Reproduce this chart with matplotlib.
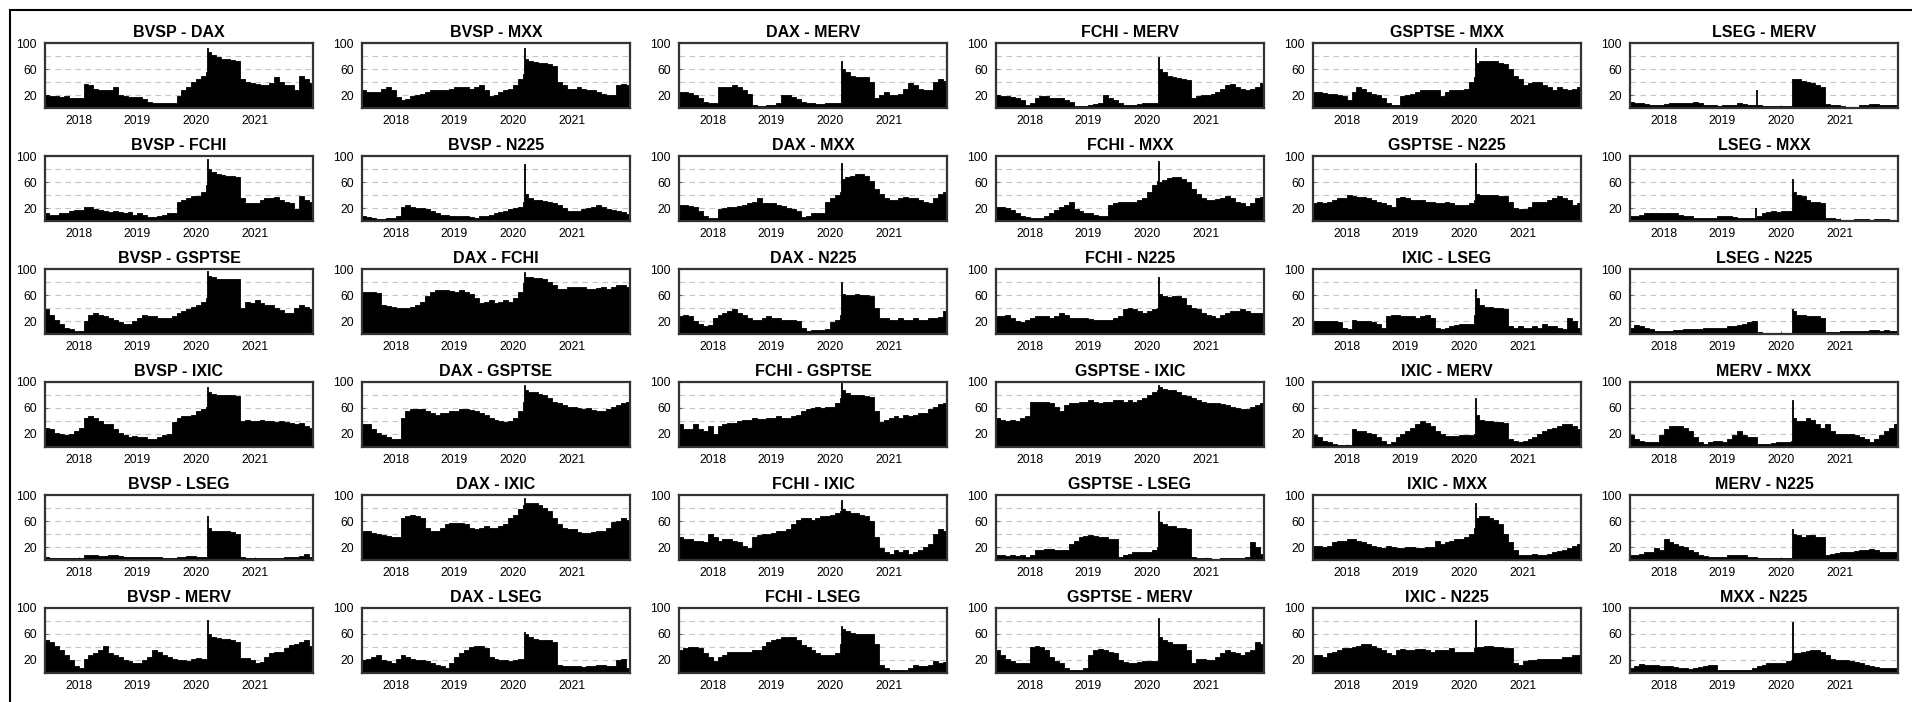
import matplotlib
matplotlib.use("Agg")
import matplotlib.pyplot as plt
import pandas as pd
from itertools import combinations
from matplotlib.patches import Rectangle

plt.rcParams["font.family"] = ["Liberation Sans", "DejaVu Sans"]

markets = ["BVSP", "DAX", "FCHI", "GSPTSE", "IXIC", "LSEG", "MERV", "MXX", "N225"]

# month starts, with the March 2020 crash split in three dates
dates = (list(pd.date_range("2017-06-01", "2020-02-01", freq="MS"))
         + list(pd.to_datetime(["2020-03-01", "2020-03-09", "2020-03-16"]))
         + list(pd.date_range("2020-04-01", "2021-12-01", freq="MS")))
end_date = pd.Timestamp("2022-01-01")

# values per year: 2017 (Jun-Dec) | 2018 | 2019 | 2020 (Jan, Feb, Mar 1, Mar 9, Mar 16, Apr-Dec) | 2021
bvsp_dax = ([20, 18, 19, 17, 18, 15, 16] + [15, 37, 35, 30, 27, 27, 28, 32, 20, 18, 17, 17]
            + [17, 14, 10, 7, 8, 7, 7, 8, 18, 28, 33, 40] + [45, 50, 55, 93, 86, 82, 78, 76, 75, 74, 72, 45, 40, 38]
            + [37, 35, 36, 38, 48, 40, 36, 36, 27, 50, 45, 38])
bvsp_fchi = ([13, 10, 10, 12, 13, 15, 17] + [17, 21, 22, 18, 17, 15, 14, 15, 14, 13, 14, 10]
             + [12, 10, 6, 6, 8, 10, 12, 13, 30, 32, 35, 38] + [38, 45, 55, 95, 80, 75, 72, 71, 70, 69, 67, 35, 28, 27]
             + [28, 33, 35, 35, 37, 33, 30, 28, 18, 38, 32, 30])
bvsp_gsptse = ([38, 30, 22, 15, 10, 7, 5] + [5, 20, 30, 33, 30, 28, 25, 22, 18, 15, 15, 20]
               + [25, 30, 27, 27, 25, 24, 25, 28, 32, 35, 38, 42] + [45, 50, 55, 97, 90, 87, 85, 85, 85, 84, 84, 40, 50, 48]
               + [52, 48, 45, 45, 40, 37, 33, 33, 40, 45, 42, 38])
bvsp_ixic = ([30, 27, 22, 20, 18, 20, 25] + [30, 45, 48, 45, 40, 35, 35, 28, 22, 18, 15, 17]
             + [15, 15, 13, 12, 15, 18, 20, 38, 45, 47, 48, 50] + [55, 58, 62, 92, 85, 82, 80, 80, 80, 80, 78, 40, 42, 40]
             + [40, 42, 40, 40, 38, 40, 38, 37, 35, 37, 33, 30])
bvsp_lseg = ([4, 3, 3, 3, 3, 3, 3] + [3, 7, 8, 7, 6, 6, 7, 7, 6, 5, 5, 5]
             + [5, 4, 4, 5, 4, 3, 3, 3, 4, 5, 6, 6] + [5, 5, 5, 67, 50, 45, 45, 44, 44, 43, 40, 4, 3, 3]
             + [3, 3, 3, 3, 3, 3, 4, 4, 5, 6, 10, 5])
bvsp_merv = ([50, 48, 42, 35, 28, 20, 10] + [7, 22, 27, 30, 35, 42, 30, 27, 24, 20, 18, 15]
             + [15, 20, 25, 35, 33, 28, 25, 22, 20, 20, 18, 21] + [23, 22, 22, 82, 60, 56, 54, 52, 52, 50, 48, 23, 23, 20]
             + [16, 17, 24, 30, 32, 33, 38, 43, 45, 48, 50, 42])
bvsp_mxx = ([27, 25, 24, 25, 30, 32, 28] + [17, 12, 14, 18, 20, 22, 25, 27, 28, 27, 28, 30]
            + [33, 33, 32, 30, 33, 35, 28, 18, 20, 25, 28, 30] + [35, 45, 52, 93, 75, 72, 71, 70, 69, 68, 65, 40, 35, 30]
            + [30, 32, 30, 28, 28, 25, 22, 20, 20, 35, 37, 35])
bvsp_n225 = ([8, 6, 4, 3, 3, 4, 5] + [8, 22, 24, 22, 20, 20, 18, 15, 12, 10, 10, 8]
             + [8, 8, 7, 6, 5, 7, 8, 10, 12, 14, 16, 18] + [20, 22, 30, 88, 42, 35, 32, 32, 31, 30, 28, 25, 20, 16]
             + [15, 16, 18, 20, 22, 25, 22, 18, 17, 16, 14, 11])
dax_fchi = ([65, 65, 64, 63, 45, 43, 42] + [40, 40, 40, 42, 45, 50, 58, 65, 68, 67, 68, 66]
            + [65, 68, 65, 62, 55, 48, 50, 52, 48, 50, 52, 50] + [55, 65, 78, 95, 88, 87, 86, 86, 85, 80, 75, 70, 70, 72]
            + [73, 72, 72, 70, 70, 71, 72, 70, 72, 75, 75, 72])
dax_gsptse = ([35, 35, 28, 22, 18, 15, 12] + [12, 45, 55, 58, 58, 58, 55, 52, 50, 52, 53, 55]
              + [55, 58, 58, 57, 55, 52, 50, 45, 42, 40, 38, 40] + [45, 55, 70, 95, 88, 85, 85, 82, 80, 75, 70, 68, 65, 62]
              + [62, 60, 58, 60, 57, 55, 55, 58, 62, 65, 68, 70])
dax_ixic = ([45, 45, 42, 40, 38, 37, 35] + [35, 65, 68, 70, 68, 65, 50, 45, 45, 50, 55, 57]
            + [57, 57, 55, 50, 48, 50, 52, 50, 50, 52, 55, 65] + [70, 78, 85, 95, 88, 87, 87, 85, 80, 75, 65, 55, 50, 48]
            + [47, 43, 42, 42, 43, 44, 45, 50, 58, 60, 64, 62])
dax_lseg = ([20, 22, 25, 28, 20, 18, 16] + [22, 28, 25, 22, 20, 20, 18, 15, 12, 10, 8, 15]
            + [25, 30, 35, 40, 42, 42, 38, 25, 22, 20, 20, 18] + [20, 22, 22, 63, 60, 55, 52, 50, 50, 50, 48, 12, 10, 10]
            + [10, 10, 9, 10, 11, 12, 12, 10, 10, 20, 22, 8])
dax_merv = ([25, 25, 23, 20, 15, 10, 8] + [7, 33, 32, 33, 35, 33, 28, 22, 5, 3, 3, 4]
            + [5, 8, 20, 20, 17, 14, 10, 8, 7, 6, 6, 7] + [7, 8, 8, 72, 60, 55, 50, 48, 48, 47, 40, 15, 20, 25]
            + [20, 20, 22, 30, 38, 35, 30, 28, 28, 40, 45, 42])
dax_mxx = ([25, 25, 23, 22, 15, 8, 5] + [5, 18, 20, 22, 22, 23, 25, 27, 30, 35, 28, 27]
           + [27, 25, 23, 20, 18, 15, 6, 8, 12, 13, 13, 30] + [35, 40, 45, 90, 65, 68, 70, 72, 72, 70, 62, 50, 42, 35]
           + [32, 33, 35, 37, 36, 35, 33, 30, 28, 35, 42, 45])
dax_n225 = ([28, 30, 28, 20, 15, 13, 14] + [25, 30, 33, 35, 38, 33, 30, 25, 22, 22, 25, 27]
            + [25, 25, 22, 22, 22, 20, 10, 5, 6, 6, 6, 8] + [18, 22, 30, 80, 62, 60, 60, 62, 60, 60, 58, 40, 25, 25]
            + [22, 22, 24, 22, 22, 25, 22, 22, 25, 24, 26, 35])
fchi_gsptse = ([35, 28, 28, 35, 28, 25, 33] + [20, 33, 35, 37, 37, 40, 42, 42, 45, 43, 43, 45]
               + [45, 47, 45, 45, 48, 50, 55, 58, 60, 62, 60, 62] + [62, 68, 75, 98, 88, 83, 80, 80, 80, 78, 77, 55, 38, 42]
               + [45, 47, 45, 50, 48, 50, 52, 53, 58, 62, 66, 67])
fchi_ixic = ([35, 33, 33, 30, 30, 28, 40] + [35, 30, 32, 33, 30, 28, 22, 18, 35, 38, 40, 40]
             + [42, 45, 45, 48, 55, 62, 65, 65, 62, 65, 68, 68] + [70, 72, 75, 92, 78, 75, 72, 72, 70, 68, 60, 35, 18, 12]
             + [10, 15, 12, 15, 10, 12, 15, 20, 25, 40, 48, 45])
fchi_lseg = ([35, 38, 40, 40, 38, 30, 25] + [18, 25, 28, 32, 33, 33, 33, 33, 35, 35, 42, 48]
             + [50, 53, 55, 55, 55, 50, 43, 40, 35, 30, 28, 28] + [28, 30, 45, 72, 68, 65, 62, 60, 60, 60, 60, 45, 12, 8]
             + [5, 5, 5, 5, 8, 12, 10, 10, 12, 18, 15, 17])
fchi_merv = ([20, 18, 18, 17, 15, 12, 5] + [8, 15, 18, 18, 15, 15, 15, 13, 10, 3, 3, 3]
             + [4, 6, 8, 20, 15, 12, 8, 5, 5, 5, 6, 7] + [8, 8, 8, 78, 60, 55, 50, 48, 46, 45, 43, 15, 18, 20]
             + [20, 22, 25, 30, 35, 37, 33, 30, 28, 30, 33, 38])
fchi_mxx = ([22, 22, 20, 17, 12, 8, 6] + [5, 4, 4, 8, 12, 17, 22, 25, 30, 18, 15, 12]
            + [12, 10, 8, 7, 25, 28, 30, 30, 30, 30, 32, 35] + [45, 55, 62, 92, 60, 63, 66, 68, 67, 65, 60, 50, 42, 35]
            + [33, 33, 34, 35, 38, 35, 30, 27, 23, 28, 35, 37])
fchi_n225 = ([27, 28, 30, 25, 20, 18, 22] + [25, 28, 28, 27, 25, 28, 33, 30, 25, 25, 24, 24]
             + [23, 22, 22, 22, 22, 25, 28, 38, 40, 38, 35, 33] + [35, 38, 40, 88, 62, 58, 57, 58, 58, 55, 45, 40, 38, 33]
             + [30, 27, 25, 30, 33, 35, 35, 38, 35, 33, 32, 33])
gsptse_ixic = ([45, 42, 40, 42, 40, 45, 48] + [70, 70, 70, 70, 68, 62, 55, 65, 67, 68, 70, 70]
               + [72, 70, 68, 70, 70, 72, 72, 70, 72, 70, 72, 75] + [80, 85, 88, 95, 92, 90, 88, 88, 85, 80, 78, 75, 72, 70]
               + [68, 67, 68, 66, 64, 62, 60, 58, 58, 62, 65, 68])
gsptse_lseg = ([8, 8, 6, 8, 6, 8, 4] + [8, 15, 15, 17, 17, 16, 15, 15, 25, 30, 35, 37]
               + [38, 37, 35, 35, 33, 33, 5, 8, 10, 12, 12, 12] + [12, 15, 20, 75, 58, 55, 52, 52, 50, 50, 48, 5, 3, 3]
               + [3, 2, 2, 3, 3, 3, 3, 3, 5, 28, 20, 10])
gsptse_merv = ([35, 28, 22, 18, 15, 15, 15] + [40, 42, 40, 35, 25, 18, 15, 8, 5, 5, 5, 8]
               + [28, 35, 37, 36, 33, 30, 20, 17, 16, 15, 17, 18] + [18, 18, 18, 85, 55, 50, 47, 45, 45, 44, 35, 15, 22, 22]
               + [20, 20, 25, 30, 35, 33, 30, 28, 32, 35, 48, 45])
gsptse_mxx = ([25, 25, 23, 22, 22, 20, 18] + [12, 25, 33, 30, 25, 22, 20, 15, 7, 5, 5, 18]
              + [20, 22, 25, 27, 28, 28, 28, 18, 25, 27, 28, 28] + [30, 40, 48, 93, 70, 72, 72, 72, 72, 70, 68, 60, 50, 45]
              + [35, 38, 40, 40, 35, 33, 28, 32, 30, 28, 30, 32])
gsptse_n225 = ([28, 30, 28, 30, 33, 35, 35] + [40, 38, 37, 37, 35, 33, 30, 28, 25, 22, 35, 37]
               + [35, 33, 33, 32, 30, 30, 28, 28, 30, 28, 25, 25] + [25, 28, 32, 90, 42, 40, 40, 40, 40, 38, 38, 30, 20, 18]
               + [18, 22, 30, 30, 30, 32, 35, 38, 35, 32, 25, 28])
ixic_lseg = ([20, 20, 20, 20, 20, 18, 10] + [8, 22, 20, 20, 20, 18, 15, 10, 28, 30, 30, 28]
             + [28, 28, 25, 28, 30, 25, 10, 8, 10, 12, 14, 15] + [15, 15, 30, 70, 55, 45, 42, 42, 40, 40, 38, 12, 10, 12]
             + [10, 10, 12, 10, 15, 12, 12, 10, 8, 25, 20, 10])
ixic_merv = ([18, 15, 10, 7, 5, 3, 3] + [3, 27, 25, 25, 22, 20, 15, 10, 5, 8, 15, 20]
             + [25, 30, 35, 40, 37, 32, 25, 20, 17, 17, 17, 18] + [18, 18, 20, 75, 50, 42, 40, 40, 38, 38, 37, 12, 10, 8]
             + [10, 12, 15, 20, 25, 28, 30, 33, 35, 35, 32, 28])
ixic_mxx = ([22, 22, 20, 22, 28, 30, 30] + [32, 33, 30, 28, 25, 22, 20, 18, 22, 20, 18, 18]
            + [20, 20, 18, 18, 20, 20, 30, 25, 28, 30, 32, 32] + [35, 40, 50, 88, 65, 67, 67, 65, 62, 55, 40, 28, 15, 8]
            + [8, 8, 10, 8, 8, 10, 12, 14, 15, 18, 22, 25])
ixic_n225 = ([28, 28, 25, 30, 33, 35, 38] + [38, 40, 42, 45, 45, 42, 38, 35, 30, 28, 35, 37]
             + [35, 35, 37, 37, 35, 33, 35, 35, 35, 38, 33, 32] + [33, 33, 38, 82, 40, 40, 42, 42, 40, 40, 38, 38, 15, 12]
             + [18, 20, 20, 22, 22, 22, 22, 22, 24, 25, 27, 28])
lseg_merv = ([10, 8, 7, 6, 5, 4, 5] + [6, 8, 7, 7, 7, 8, 9, 7, 5, 4, 4, 3]
             + [4, 4, 5, 7, 6, 5, 4, 4, 3, 3, 3, 3] + [3, 3, 3, 45, 45, 45, 42, 40, 38, 35, 33, 6, 5, 5]
             + [3, 2, 2, 2, 4, 5, 6, 6, 5, 5, 5, 5])
lseg_mxx = ([8, 8, 10, 12, 12, 12, 12] + [12, 12, 12, 10, 8, 7, 5, 5, 4, 4, 5, 7]
            + [8, 7, 6, 5, 5, 5, 5, 8, 12, 14, 15, 14] + [15, 16, 16, 65, 45, 40, 38, 32, 30, 30, 28, 5, 5, 3]
            + [2, 2, 2, 3, 3, 3, 2, 3, 3, 3, 2, 2])
lseg_n225 = ([10, 14, 12, 10, 8, 5, 4] + [5, 5, 6, 6, 7, 7, 8, 8, 9, 10, 10, 10]
             + [10, 12, 12, 14, 16, 18, 20, 3, 2, 2, 2, 2] + [2, 2, 2, 38, 35, 30, 30, 28, 28, 27, 25, 3, 3, 3]
             + [4, 4, 4, 5, 5, 5, 6, 6, 5, 6, 5, 5])
merv_mxx = ([18, 12, 10, 8, 8, 8, 18] + [28, 32, 33, 33, 30, 25, 15, 8, 5, 8, 10, 10]
            + [8, 12, 18, 25, 18, 15, 15, 5, 5, 5, 6, 8] + [8, 8, 10, 72, 45, 40, 40, 45, 42, 35, 30, 35, 25, 20]
            + [20, 20, 20, 18, 15, 12, 8, 12, 18, 25, 30, 35])
merv_n225 = ([8, 8, 10, 12, 12, 18, 15] + [32, 28, 25, 22, 20, 15, 12, 8, 6, 5, 5, 5]
             + [5, 7, 8, 8, 7, 5, 4, 3, 3, 3, 3, 3] + [3, 3, 3, 48, 40, 38, 36, 38, 38, 36, 35, 8, 10, 11]
             + [12, 12, 13, 14, 15, 15, 17, 15, 13, 13, 12, 12])
mxx_n225 = ([8, 10, 14, 12, 12, 12, 11] + [10, 10, 9, 8, 7, 6, 7, 9, 10, 12, 12, 5]
            + [5, 5, 5, 5, 5, 5, 8, 10, 12, 15, 15, 15] + [16, 18, 20, 78, 30, 30, 32, 34, 35, 35, 33, 28, 22, 20]
            + [20, 20, 18, 17, 15, 13, 11, 9, 8, 7, 8, 8])

series = [bvsp_dax, bvsp_fchi, bvsp_gsptse, bvsp_ixic, bvsp_lseg, bvsp_merv,
          bvsp_mxx, bvsp_n225, dax_fchi, dax_gsptse, dax_ixic, dax_lseg,
          dax_merv, dax_mxx, dax_n225, fchi_gsptse, fchi_ixic, fchi_lseg,
          fchi_merv, fchi_mxx, fchi_n225, gsptse_ixic, gsptse_lseg, gsptse_merv,
          gsptse_mxx, gsptse_n225, ixic_lseg, ixic_merv, ixic_mxx, ixic_n225,
          lseg_merv, lseg_mxx, lseg_n225, merv_mxx, merv_n225, mxx_n225]
titles = [f"{a} - {b}" for a, b in combinations(markets, 2)]

# one-day spikes in mid 2019
thin_titles = ["LSEG - MERV", "LSEG - MXX"]
thin_dates = pd.to_datetime(["2019-08-05", "2019-07-29"])
thin_values = [27, 20]

year_ticks = pd.to_datetime(["2018-01-01", "2019-01-01", "2020-01-01", "2021-01-01"])
year_labels = ["2018", "2019", "2020", "2021"]
grid_levels = [20, 40, 60, 80]

for name, vals in zip(titles, series):
    if len(vals) != len(dates):
        raise ValueError(f"{name}: {len(vals)} values for {len(dates)} dates")

W, H = 1912, 702
fig = plt.figure(figsize=(W / 100, H / 100), dpi=100)

for k, (name, vals) in enumerate(zip(titles, series)):
    col, row = divmod(k, 6)
    left = 45 + col * 317
    top = 43 + row * 113
    ax = fig.add_axes([left / W, 1 - (top + 65) / H, 268 / W, 65 / H])
    x = pd.DatetimeIndex(dates + [end_date]).to_numpy()
    y = vals + [vals[-1]]
    ax.fill_between(x, y, 0, step="post", color="black", lw=0.6, zorder=2)
    if name in thin_titles:
        i = thin_titles.index(name)
        ax.vlines(thin_dates[i], 0, thin_values[i], color="black", lw=1.3, zorder=2)
    for g in grid_levels:
        ax.axhline(g, color="#c4c4c4", lw=0.8, ls=(0, (5, 4)), zorder=1)
    ax.set_xlim(pd.Timestamp("2017-06-05"), pd.Timestamp("2021-12-28"))
    ax.set_ylim(0, 100)
    ax.set_xticks(year_ticks)
    ax.set_xticklabels(year_labels)
    ax.set_yticks([20, 60, 100])
    ax.tick_params(labelsize=8.7, length=2.5, width=0.8, color="#666666",
                   direction="in", pad=5)
    ax.tick_params(axis="y", pad=6)
    for s in ax.spines.values():
        s.set_linewidth(1.6)
        s.set_color("#333333")
        s.set_zorder(3)
    ax.set_title(name, fontsize=11.5, fontweight="bold", pad=4)

# outer frame, cut off on the right and at the bottom
fig.add_artist(Rectangle((10 / W, -0.5), 2, 1 - 10 / H + 0.5, transform=fig.transFigure,
                         fill=False, lw=1.5, ec="black"))

fig.savefig("out.png", dpi=100)
